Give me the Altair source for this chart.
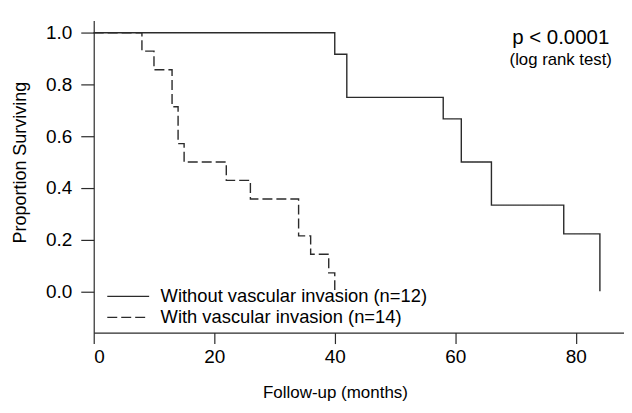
import altair as alt
import pandas as pd

# Kaplan-Meier step data
without_t = [0, 40, 42, 58, 61, 66, 78, 84]
without_s = [1.0, 0.917, 0.75, 0.667, 0.5, 0.333, 0.222, 0.0]
with_t = [0, 8, 10, 13, 14, 15, 22, 26, 34, 36, 39, 40]
with_s = [1.0, 0.929, 0.857, 0.714, 0.571, 0.5, 0.429, 0.357, 0.214, 0.143, 0.071, 0.0]

series_names = ["Without vascular invasion (n=12)", "With vascular invasion (n=14)"]
x_ticks = [0, 20, 40, 60, 80]
y_ticks = [0.0, 0.2, 0.4, 0.6, 0.8, 1.0]

annot_text = ["p < 0.0001", "(log rank test)"]
annot_x = [77.5, 77.5]
annot_y = [0.978, 0.893]
annot_size = [20.5, 16.8]

# in-plot legend (key rows placed in data units)
legend_row_y = [-0.020, -0.101]
legend_key_x0 = 2.25
legend_key_x1 = 9.2
legend_text_x = 11.1

rows = []
for t, s in zip(without_t, without_s):
    rows.append({"t": t, "s": s, "group": series_names[0]})
for t, s in zip(with_t, with_s):
    rows.append({"t": t, "s": s, "group": series_names[1]})
df = pd.DataFrame(rows)

ann = pd.DataFrame({"label": annot_text, "x": annot_x, "y": annot_y, "size": annot_size})
leg = pd.DataFrame({"group": series_names, "y": legend_row_y,
                    "x0": [legend_key_x0] * 2, "x1": [legend_key_x1] * 2,
                    "xt": [legend_text_x] * 2})

FONT = "Liberation Sans"
INK = "#2b2b2b"

xscale = alt.Scale(domain=[0, 88], nice=False, zero=False)
yscale = alt.Scale(domain=[-0.16, 1.047], nice=False, zero=False)
dash = alt.StrokeDash("group:N",
                      scale=alt.Scale(domain=series_names, range=[[1, 0], [10, 4]]),
                      legend=None)

lines = alt.Chart(df).mark_line(
    interpolate="step-after", color=INK, strokeWidth=1.4
).encode(
    x=alt.X("t:Q", scale=xscale,
            axis=alt.Axis(values=x_ticks, title="Follow-up (months)", format="d",
                          tickSize=11, labelPadding=4, labelFontSize=19,
                          titleFontSize=17, titleFontWeight="normal",
                          titleX=242, titleY=60, titleAlign="center",
                          titleBaseline="middle", grid=False)),
    y=alt.Y("s:Q", scale=yscale,
            axis=alt.Axis(values=y_ticks, title="Proportion Surviving", format=".1f",
                          tickSize=13, labelPadding=9, labelFontSize=19,
                          titleFontSize=18, titleFontWeight="normal",
                          titleX=-73, titleY=142, titleAlign="center",
                          titleBaseline="middle", grid=False)),
    strokeDash=dash,
    order="t:Q",
)

leg_keys = alt.Chart(leg).mark_rule(color=INK, strokeWidth=1.4).encode(
    x=alt.X("x0:Q", scale=xscale),
    x2="x1:Q",
    y=alt.Y("y:Q", scale=yscale),
    strokeDash=dash,
)

leg_text = alt.Chart(leg).mark_text(font=FONT, fontSize=18.4, color="#000",
                                    align="left", baseline="middle").encode(
    x=alt.X("xt:Q", scale=xscale),
    y=alt.Y("y:Q", scale=yscale),
    text="group:N",
)

text = alt.Chart(ann).mark_text(font=FONT, color="#000", align="center",
                                baseline="middle").encode(
    x=alt.X("x:Q", scale=xscale),
    y=alt.Y("y:Q", scale=yscale),
    text="label:N",
    size=alt.Size("size:Q", scale=None, legend=None),
)

chart = alt.layer(lines, leg_keys, leg_text, text).properties(
    width=532, height=313,
    autosize=alt.AutoSizeParams(type="none"),
    padding={"left": 86, "top": 12, "right": 0, "bottom": 72},
).configure_view(stroke=None).configure_axis(
    domainColor=INK, tickColor=INK, labelColor="#000", titleColor="#000",
    labelFont=FONT, titleFont=FONT, domainWidth=1.2, tickWidth=1.2,
)

chart.save("out.html", embed_options={"renderer": "svg", "actions": False})
